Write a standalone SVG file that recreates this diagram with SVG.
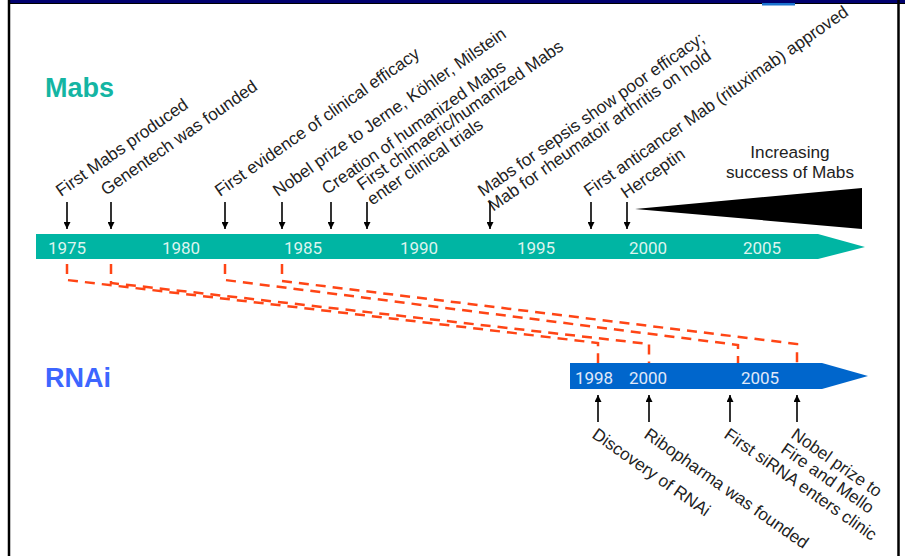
<svg xmlns="http://www.w3.org/2000/svg" width="905" height="556" viewBox="0 0 905 556">
<defs>
<marker id="ah" viewBox="0 0 10 10" refX="10" refY="5" markerWidth="7" markerHeight="7" markerUnits="userSpaceOnUse" orient="auto"><path d="M0,0 L10,5 L0,10 z" fill="#000"/></marker>
</defs>
<style>
.lbl{font-family:"Liberation Sans",Arial,sans-serif;font-size:17.2px;fill:#222}
.yr{font-family:Roboto,"Liberation Sans",sans-serif;font-size:17px;text-anchor:middle}
.ym{fill:#dcf4ef}
.yb{fill:#e0e9f9}
.ttl{font-family:"Liberation Sans",Arial,sans-serif;font-weight:bold;font-size:27px}
.arr{stroke:#000;stroke-width:1.6;fill:none;marker-end:url(#ah)}
.dash{fill:none;stroke:#ff4515;stroke-width:2.5;stroke-dasharray:10 7}
</style>
<rect x="0" y="0" width="905" height="556" fill="#fff"/>
<g id="frame">
<rect x="9" y="0" width="896" height="3" fill="#00006e"/>
<line x1="9" y1="3.5" x2="905" y2="3.5" stroke="#000" stroke-width="1.2"/>
<line x1="9" y1="0" x2="9" y2="556" stroke="#000" stroke-width="2.5"/>
<line x1="898.5" y1="0" x2="898.5" y2="556" stroke="#000" stroke-width="2.5"/>
<rect x="762" y="3" width="33" height="2.5" fill="#1a73d0"/>
</g>
<g id="mabs-title"><text class="ttl" x="45" y="97" fill="#14b5a3">Mabs</text></g>
<g id="rnai-title"><text class="ttl" x="45" y="387" fill="#3d66ff">RNAi</text></g>
<g id="mabs-timeline">
<polygon points="36,234 818,234 865,247 818,259 36,259" fill="#00b5a3"/>
<text class="yr ym" x="67" y="254">1975</text>
<text class="yr ym" x="181" y="254">1980</text>
<text class="yr ym" x="303" y="254">1985</text>
<text class="yr ym" x="419" y="254">1990</text>
<text class="yr ym" x="536" y="254">1995</text>
<text class="yr ym" x="648" y="254">2000</text>
<text class="yr ym" x="762" y="254">2005</text>
</g>
<g id="rnai-timeline">
<polygon points="570,363 822,363 868,376 822,389 570,389" fill="#0066cc"/>
<text class="yr yb" x="594" y="384">1998</text>
<text class="yr yb" x="648" y="384">2000</text>
<text class="yr yb" x="760" y="384">2005</text>
</g>
<g id="increasing-success">
<polygon points="635,209 862,188 862,229" fill="#000"/>
<text class="lbl" x="790" y="158" text-anchor="middle">Increasing</text>
<text class="lbl" x="790" y="178" text-anchor="middle">success of Mabs</text>
</g>
<g id="m1975"><text class="lbl" transform="translate(61,197) rotate(-35)">First Mabs produced</text></g>
<g id="m1976"><text class="lbl" transform="translate(106,196) rotate(-35)">Genentech was founded</text></g>
<g id="m1982"><text class="lbl" transform="translate(220,197) rotate(-35)">First evidence of clinical efficacy</text></g>
<g id="m1984"><text class="lbl" transform="translate(278,197) rotate(-35)">Nobel prize to Jerne, Köhler, Milstein</text></g>
<g id="m1986"><text class="lbl" transform="translate(327,195) rotate(-35)">Creation of humanized Mabs</text></g>
<g id="m1987"><text class="lbl" transform="translate(362,191) rotate(-35)"><tspan x="0" y="0">First chimaeric/humanized Mabs</tspan><tspan x="0" dy="18">enter clinical trials</tspan></text></g>
<g id="m1993"><text class="lbl" transform="translate(483,197) rotate(-35)"><tspan x="0" y="0">Mabs for sepsis show poor efficacy;</tspan><tspan x="0" dy="18">Mab for rheumatoir arthritis on hold</tspan></text></g>
<g id="m1997"><text class="lbl" transform="translate(589,197) rotate(-35)">First anticancer Mab (rituximab) approved</text></g>
<g id="m1998"><text class="lbl" transform="translate(626,199) rotate(-35)">Herceptin</text></g>
<g id="r1998"><text class="lbl" transform="translate(591,437) rotate(35)">Discovery of RNAi</text></g>
<g id="r2000"><text class="lbl" transform="translate(643,437) rotate(35)">Ribopharma was founded</text></g>
<g id="r2004"><text class="lbl" transform="translate(723,437) rotate(35)">First siRNA enters clinic</text></g>
<g id="r2006"><text class="lbl" transform="translate(790,437) rotate(35)"><tspan x="0" y="0">Nobel prize to</tspan><tspan x="0" dy="18">Fire and Mello</tspan></text></g>
<g id="connectors">
<line class="arr" x1="67" y1="202" x2="67" y2="229"/>
<line class="arr" x1="111" y1="202" x2="111" y2="229"/>
<line class="arr" x1="225" y1="202" x2="225" y2="229"/>
<line class="arr" x1="282" y1="202" x2="282" y2="229"/>
<line class="arr" x1="331" y1="202" x2="331" y2="229"/>
<line class="arr" x1="367" y1="202" x2="367" y2="229"/>
<line class="arr" x1="490" y1="202" x2="490" y2="229"/>
<line class="arr" x1="591" y1="202" x2="591" y2="229"/>
<line class="arr" x1="627" y1="202" x2="627" y2="229"/>
<line class="arr" x1="598" y1="422" x2="598" y2="395"/>
<line class="arr" x1="649" y1="422" x2="649" y2="395"/>
<line class="arr" x1="730" y1="422" x2="730" y2="395"/>
<line class="arr" x1="797" y1="422" x2="797" y2="395"/>
<path class="dash" d="M67,264 L67,280 L598,343 L598,363"/>
<path class="dash" d="M111,264 L111,283 L649,344 L649,363"/>
<path class="dash" d="M225,264 L225,280 L738,345 L738,363"/>
<path class="dash" d="M282,264 L282,281 L797,344 L797,363"/>
</g>
</svg>
